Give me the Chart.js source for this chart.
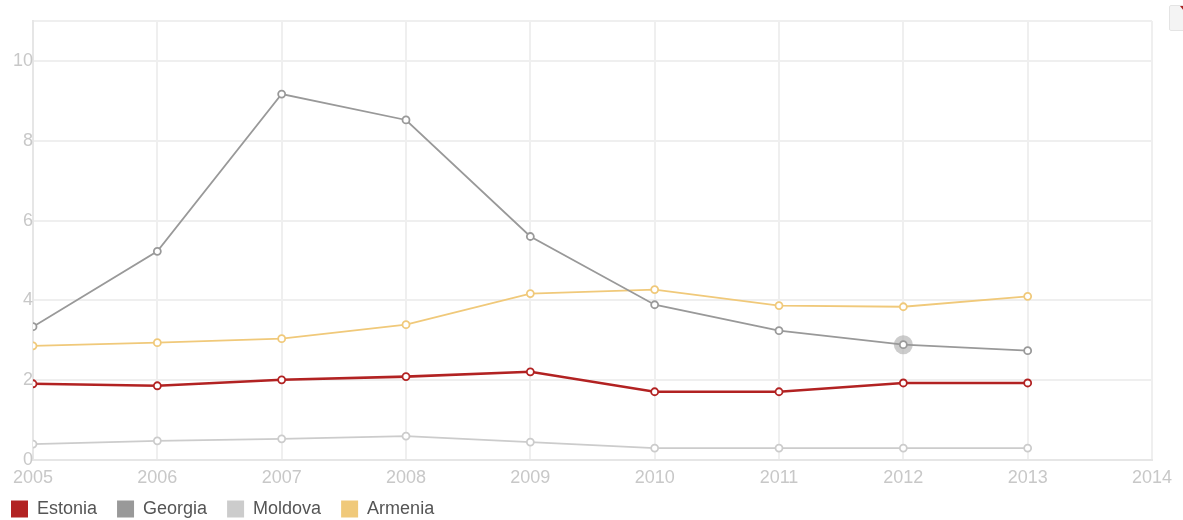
<!DOCTYPE html>
<html>
<head>
<meta charset="utf-8">
<script src="https://cdn.jsdelivr.net/npm/chart.js@4/dist/chart.umd.min.js"></script>
<style>
  html, body { margin: 0; padding: 0; background: #fff; }
  #wrap { position: relative; width: 1183px; height: 520px; }
  #btn { position: absolute; left: 1169px; top: 5px; width: 16px; height: 24px; background: #f4f4f4; border: 1px solid #e4e4e4; border-radius: 2px; }
  #btn:after { content: ''; position: absolute; right: 2px; top: 0; border-left: 4px solid transparent; border-top: 5px solid #a22; }
</style>
</head>
<body>
<div id="wrap">
  <canvas id="grafica" width="1183" height="520"></canvas>
  <div id="btn"></div>
</div>
<script>
// datos
var anios = [2005, 2006, 2007, 2008, 2009, 2010, 2011, 2012, 2013];
var paises = ['Estonia', 'Georgia', 'Moldova', 'Armenia'];
var estonia = [1.91, 1.86, 2.01, 2.09, 2.21, 1.71, 1.71, 1.93, 1.93];
var georgia = [3.34, 5.23, 9.17, 8.52, 5.60, 3.89, 3.24, 2.89, 2.74];
var moldova = [0.40, 0.48, 0.53, 0.60, 0.45, 0.30, 0.30, 0.30, 0.30];
var armenia = [2.86, 2.94, 3.04, 3.39, 4.17, 4.27, 3.87, 3.84, 4.10];
var ticksY = [0, 2, 4, 6, 8, 10, 11];
var colores = ['#b22222', '#999999', '#cccccc', '#f0c97a'];
var fuente = 'Liberation Sans, Arial, sans-serif';

function puntos(valores) {
    return valores.map(function (v, i) { return { x: anios[i], y: v }; });
}

function serie(nombre, valores, color, grosor) {
    return {
        label: nombre,
        data: puntos(valores),
        borderColor: color,
        backgroundColor: color,
        pointBackgroundColor: '#fff',
        pointBorderColor: color,
        pointBorderWidth: 1.8,
        pointRadius: 3.5,
        borderWidth: grosor,
        tension: 0,
        fill: false
    };
}

// halo gris sobre Georgia 2012 (punto resaltado)
var halo = {
    id: 'halo',
    beforeDatasetsDraw: function (chart) {
        var p = chart.getDatasetMeta(1).data[7];
        if (!p) return;
        var ctx = chart.ctx;
        ctx.save();
        ctx.beginPath();
        ctx.arc(p.x, p.y, 9.5, 0, Math.PI * 2);
        ctx.fillStyle = 'rgba(170,170,170,0.6)';
        ctx.fill();
        ctx.restore();
    }
};

// subimos un poco la leyenda para que quede pegada a las etiquetas del eje x
var moverLeyenda = {
    id: 'moverLeyenda',
    afterLayout: function (chart) {
        var l = chart.legend;
        if (!l) return;
        l.top -= 12;
        l.left -= 9;
    }
};

var ctx = document.getElementById('grafica').getContext('2d');
var myChart = new Chart(ctx, {
    type: 'line',
    data: {
        datasets: [
            serie(paises[0], estonia, colores[0], 2.6),
            serie(paises[1], georgia, colores[1], 1.8),
            serie(paises[2], moldova, colores[2], 1.8),
            serie(paises[3], armenia, colores[3], 1.8)
        ]
    },
    plugins: [halo, moverLeyenda],
    options: {
        responsive: false,
        animation: false,
        layout: { padding: { left: 0, right: 31, top: 21, bottom: 0 } },
        plugins: {
            tooltip: { enabled: false },
            legend: {
                position: 'bottom',
                align: 'start',
                maxHeight: 28,
                labels: {
                    boxWidth: 17,
                    boxHeight: 17,
                    useBorderRadius: true,
                    borderRadius: 3,
                    padding: 20,
                    color: '#555',
                    font: { family: fuente, size: 18 },
                    generateLabels: function (chart) {
                        return chart.data.datasets.map(function (d, i) {
                            return {
                                text: d.label,
                                fillStyle: colores[i],
                                strokeStyle: colores[i],
                                fontColor: '#555',
                                lineWidth: 0,
                                datasetIndex: i
                            };
                        });
                    }
                }
            }
        },
        scales: {
            x: {
                type: 'linear',
                min: 2005,
                max: 2014,
                afterFit: function (s) { s.height = 32; },
                ticks: {
                    stepSize: 1,
                    color: '#c8c8c8',
                    padding: 7,
                    font: { family: fuente, size: 18 },
                    callback: function (v) { return String(v); }
                },
                grid: { color: '#efefef', lineWidth: 2, drawTicks: false },
                border: { color: '#e6e6e6', width: 2 }
            },
            y: {
                min: 0,
                max: 11,
                afterFit: function (s) { s.width = 33; },
                afterBuildTicks: function (s) {
                    s.ticks = ticksY.map(function (v) { return { value: v }; });
                },
                ticks: {
                    color: '#c8c8c8',
                    padding: 0,
                    font: { family: fuente, size: 18 },
                    callback: function (v) { return v > 10 ? '' : String(v); }
                },
                grid: { color: '#efefef', lineWidth: 2, drawTicks: false },
                border: { color: '#e6e6e6', width: 2 }
            }
        }
    },
});
</script>
</body>
</html>
